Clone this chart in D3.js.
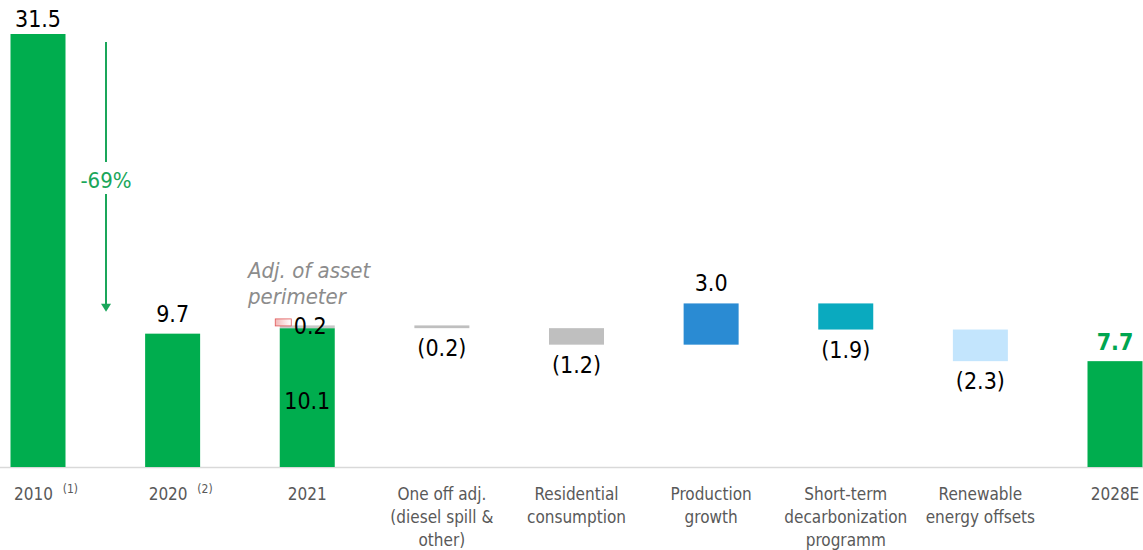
<!DOCTYPE html>
<html>
<head>
<meta charset="utf-8">
<script src="https://cdn.jsdelivr.net/npm/d3@7"></script>
<style>
  body { margin: 0; background: #fff; }
  svg { display: block; font-family: "DejaVu Sans Condensed", "DejaVu Sans", sans-serif; }
</style>
</head>
<body>
<svg width="1143" height="550"></svg>
<script>
// categories and their axis label lines
var categories = ["2010", "2020", "2021", "oneoff", "residential", "production", "shortterm", "renewable", "2028E"];
var labelLines = [
    ["2010"], ["2020"], ["2021"],
    ["One off adj.", "(diesel spill &", "other)"],
    ["Residential", "consumption"],
    ["Production", "growth"],
    ["Short-term", "decarbonization", "programm"],
    ["Renewable", "energy offsets"],
    ["2028E"]
];
var footnotes = ["(1)", "(2)", "", "", "", "", "", "", ""];
// totals (null = delta step) and deltas
var totals = [31.5, 9.7, 10.1, null, null, null, null, null, 7.7];
var deltas = [null, null, null, -0.2, -1.2, 3.0, -1.9, -2.3, null];
var perimeterAdj = 0.2;   // sits on top of 2021
var reductionLabel = "-69%";

var svg = d3.select("svg"),
    width = +svg.attr("width"),
    height = +svg.attr("height");

var base = 467, barW = 55;

var xScale = d3.scalePoint().domain(categories).range([38, 1115]);
var yScale = d3.scaleLinear().domain([0, 31.5]).range([base, 34]);

var colors = {
    total: "#00ad4e",
    adj: "#c8c8c8",
    oneoff: "#bfbfbf",
    residential: "#bfbfbf",
    production: "#2a8bd3",
    shortterm: "#0aaabf",
    renewable: "#c3e5fd"
};

// build waterfall steps
var level = 0;
var steps = categories.map(function(c, i) {
    var s;
    if (totals[i] !== null) {
        s = {cat: c, y0: 0, y1: totals[i], value: totals[i], total: true};
        level = totals[i];
        if (c === "2021") level += perimeterAdj;
    } else {
        s = {cat: c, y0: level, y1: level + deltas[i], value: deltas[i], total: false};
        level = level + deltas[i];
    }
    return s;
});

// baseline
svg.append("line")
    .attr("x1", 0).attr("x2", width)
    .attr("y1", base + 0.5).attr("y2", base + 0.5)
    .attr("stroke", "#d9d9d9").attr("stroke-width", 1.5);

// bars
svg.selectAll(".bar")
    .data(steps)
    .enter().append("rect")
    .attr("class", "bar")
    .attr("x", function(d) { return xScale(d.cat) - barW / 2; })
    .attr("y", function(d) { return yScale(Math.max(d.y0, d.y1)); })
    .attr("width", barW)
    .attr("height", function(d) { return Math.max(2.5, Math.abs(yScale(d.y0) - yScale(d.y1))); })
    .attr("fill", function(d) { return d.total ? colors.total : colors[d.cat]; });

// asset perimeter adjustment on 2021
var x21 = xScale("2021");
svg.append("rect")
    .attr("x", x21 - barW / 2)
    .attr("y", yScale(10.1 + perimeterAdj))
    .attr("width", barW)
    .attr("height", yScale(10.1) - yScale(10.1 + perimeterAdj))
    .attr("fill", colors.adj);

var grad = svg.append("defs").append("linearGradient").attr("id", "redfade");
grad.append("stop").attr("offset", "0%").attr("stop-color", "#f2b8b8");
grad.append("stop").attr("offset", "100%").attr("stop-color", "#ffffff");
svg.append("rect")
    .attr("x", x21 - barW / 2 - 4.5)
    .attr("y", yScale(10.1 + perimeterAdj) - 6.5)
    .attr("width", 16).attr("height", 7)
    .attr("fill", "url(#redfade)")
    .attr("stroke", "#e05555").attr("stroke-width", 0.8);

svg.append("text")
    .attr("x", x21 + 3).attr("y", yScale(10.1 + perimeterAdj) + 9)
    .attr("text-anchor", "middle")
    .attr("font-size", 23).attr("fill", "#000")
    .text(d3.format(".1f")(perimeterAdj));

svg.append("text")
    .attr("x", x21).attr("y", 409)
    .attr("text-anchor", "middle")
    .attr("font-size", 23).attr("fill", "#000")
    .text(d3.format(".1f")(totals[2]));

var adjNote = svg.append("text")
    .attr("x", 248).attr("y", 278)
    .attr("font-size", 22).attr("font-style", "italic").attr("fill", "#8c8c8c");
adjNote.append("tspan").attr("x", 248).attr("dy", 0).text("Adj. of asset");
adjNote.append("tspan").attr("x", 248).attr("dy", 26).text("perimeter");

// value labels
var fmt = function(v) { return v < 0 ? "(" + d3.format(".1f")(-v) + ")" : d3.format(".1f")(v); };
steps.forEach(function(d, i) {
    if (d.cat === "2021") return;
    var top = yScale(Math.max(d.y0, d.y1)),
        bot = yScale(Math.min(d.y0, d.y1));
    var t = svg.append("text")
        .attr("x", xScale(d.cat))
        .attr("text-anchor", "middle")
        .attr("font-size", 23)
        .attr("fill", "#000")
        .text(fmt(d.value));
    if (d.value < 0) {
        t.attr("y", Math.max(bot, top + 2.5) + 28);
    } else if (d.cat === "2010") {
        t.attr("y", top - 7);
    } else {
        t.attr("y", top - 12);
    }
    if (d.cat === "2028E") {
        t.attr("fill", "#00a650").attr("font-weight", "bold").attr("y", top - 11);
    }
});

// -69% arrow
var ax = 106;
var arrowEnd = yScale(9.7) - 22;
svg.append("line")
    .attr("x1", ax).attr("x2", ax)
    .attr("y1", yScale(31.5) + 8).attr("y2", 162)
    .attr("stroke", "#1aa65a").attr("stroke-width", 2);
svg.append("line")
    .attr("x1", ax).attr("x2", ax)
    .attr("y1", 194).attr("y2", arrowEnd - 6)
    .attr("stroke", "#1aa65a").attr("stroke-width", 2);
svg.append("path")
    .attr("d", "M" + (ax - 5) + "," + (arrowEnd - 8) + " L" + (ax + 5) + "," + (arrowEnd - 8) + " L" + ax + "," + arrowEnd + " Z")
    .attr("fill", "#1aa65a");
svg.append("text")
    .attr("x", ax).attr("y", 188)
    .attr("text-anchor", "middle")
    .attr("font-size", 22).attr("fill", "#1aa65a")
    .text(reductionLabel);

// category labels
categories.forEach(function(c, i) {
    var cx = xScale(c) + (footnotes[i] ? 8 : 0);
    var t = svg.append("text")
        .attr("x", cx)
        .attr("y", 500)
        .attr("text-anchor", "middle")
        .attr("font-size", 17)
        .attr("fill", "#595959");
    labelLines[i].forEach(function(line, j) {
        t.append("tspan")
            .attr("x", cx)
            .attr("dy", j === 0 ? 0 : 23)
            .text(line);
    });
    if (footnotes[i]) {
        t.append("tspan").text("\u00a0\u00a0");
        t.append("tspan").attr("font-size", 12).attr("dy", -7).text(footnotes[i]);
    }
});
</script>
</body>
</html>
